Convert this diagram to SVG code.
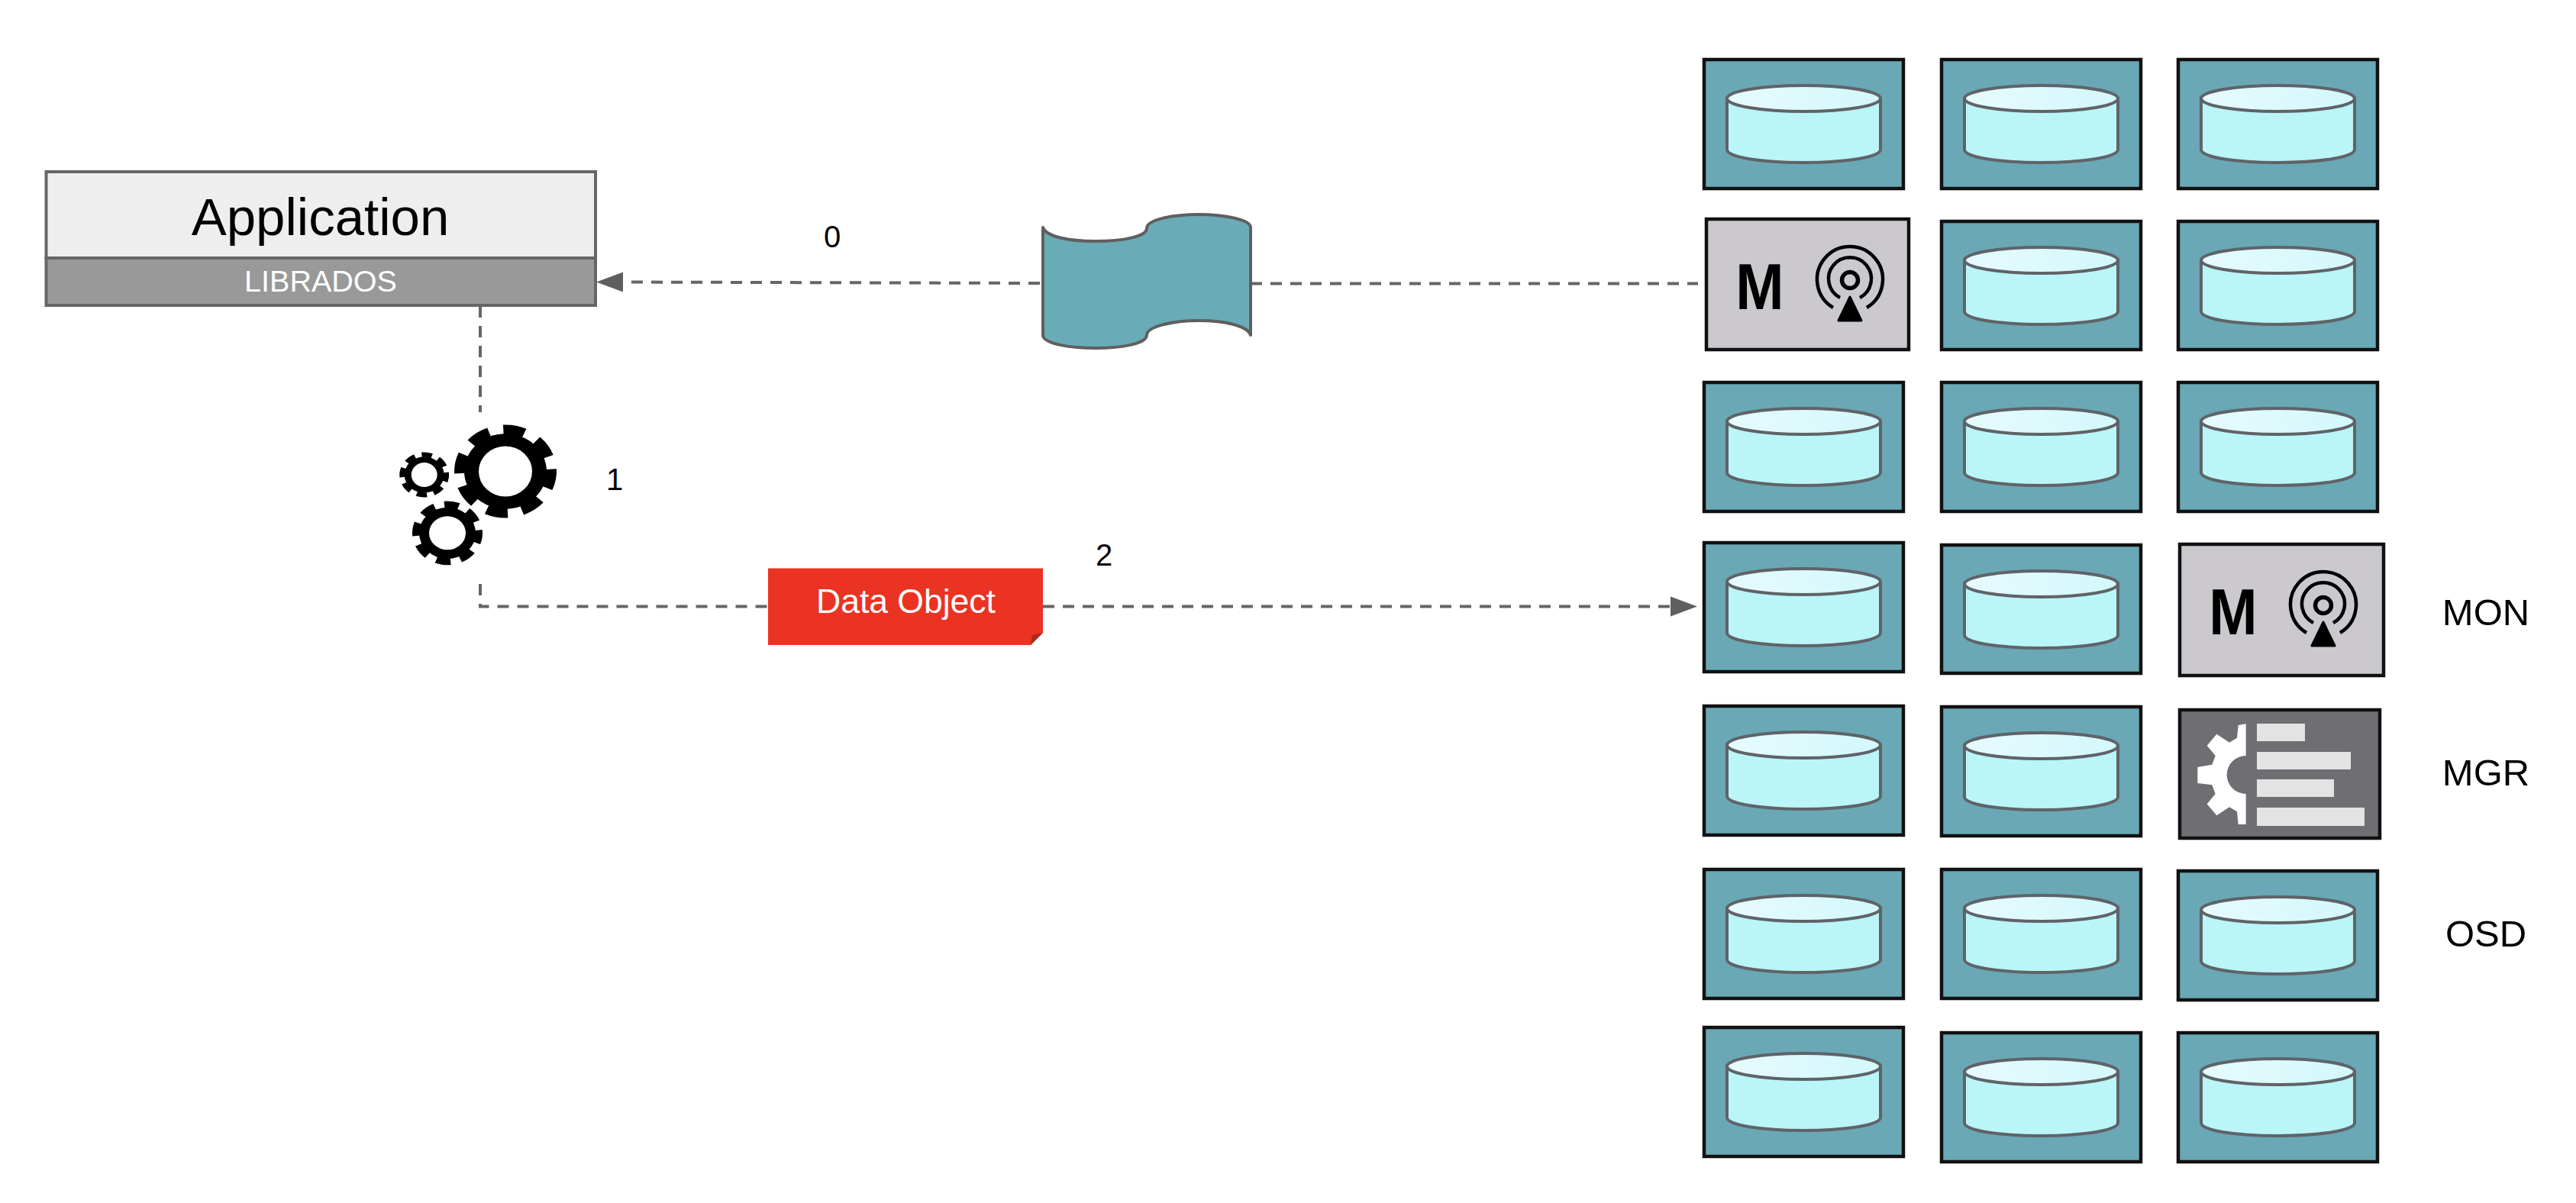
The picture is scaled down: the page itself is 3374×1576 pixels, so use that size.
<svg xmlns="http://www.w3.org/2000/svg" width="3374" height="1576" viewBox="0 0 3374 1576">
<style>
text{font-family:"Liberation Sans",Arial,sans-serif;fill:#000}
.c{text-anchor:middle}
.lbl{font-size:40px}
.side{font-size:49px;text-anchor:middle}
.conn{fill:none;stroke:#666;stroke-width:4;stroke-dasharray:15 11}
.osd{fill:#6aa8b5;stroke:#111;stroke-width:4.5}
.mon{fill:#cbc9cd;stroke:#111;stroke-width:4.5}
.ink{fill:none;stroke:#000}
.mt{font-size:76px;font-weight:700;text-anchor:middle}
.bar{fill:#e3e3e4}
</style>
<defs>
<linearGradient id="lid" x1="0" x2="1" y1="0" y2="0"><stop offset="0" stop-color="#e6fbfd"/><stop offset="1" stop-color="#d3f8fb"/></linearGradient>
<marker id="arrow" markerUnits="userSpaceOnUse" markerWidth="36" markerHeight="28" refX="0" refY="14" orient="auto"><path d="M0 1L35 14L0 27Z" fill="#5f5f5f"/></marker>
<g id="cyl">
<path d="M30 51V118C30 128 75 135 130 135S231 128 231 118V51Z" fill="#baf5f8" stroke="#5f6368" stroke-width="4"/>
<ellipse cx="130.500" cy="51" rx="100.500" ry="17" fill="url(#lid)" stroke="#5f6368" stroke-width="4"/>
</g>
<g id="ant">
<circle cx="188" cy="80" r="10.500" class="ink" stroke-width="5.500"/>
<path d="M175 103A28 28 0 1 1 201 103" class="ink" stroke-width="4.500"/>
<path d="M166 116A43 43 0 1 1 210 116" class="ink" stroke-width="4.500"/>
<path d="M188 102L203 133H173Z" fill="#000" stroke="#000" stroke-width="3" stroke-linejoin="round"/>
</g>
</defs>

<g id="connectors">
<path class="conn" d="M629 401V540"/>
<path class="conn" d="M629 765V794.500H1006"/>
<path class="conn" d="M1366 794.500H2188" marker-end="url(#arrow)"/>
<path class="conn" d="M1362 371L816 369.500" marker-end="url(#arrow)"/>
<path class="conn" d="M1638 371.500H2224"/>
</g>

<g id="application">
<rect x="60.500" y="225" width="719.500" height="113" fill="#eee" stroke="#666" stroke-width="4"/>
<text x="419.500" y="308" class="c" font-size="69">Application</text>
</g>
<g id="librados">
<rect x="60.500" y="338" width="719.500" height="62" fill="#999" stroke="#666" stroke-width="4"/>
<text x="420" y="382" class="c" font-size="39.500" style="fill:#fff">LIBRADOS</text>
</g>

<g id="gears">
<g transform="translate(662 617.500) scale(1 .91)">
<circle r="60" class="ink" stroke-width="14" stroke-dasharray="28 19.120" transform="rotate(-3)"/>
<circle r="54" fill="#000"/>
</g>
<ellipse cx="662" cy="617.500" rx="35" ry="33" fill="#fff"/>
<g transform="translate(586 698.300) scale(1 .91)">
<circle r="41" class="ink" stroke-width="10" stroke-dasharray="19 13.200" transform="rotate(-6)"/>
<circle r="37" fill="#000"/>
</g>
<ellipse cx="586" cy="698.300" rx="24" ry="22" fill="#fff"/>
<g transform="translate(555.700 622) scale(1 .91)">
<circle r="29" class="ink" stroke-width="7" stroke-dasharray="13.500 9.280" transform="rotate(-7)"/>
<circle r="26" fill="#000"/>
</g>
<ellipse cx="555.700" cy="622" rx="17" ry="16" fill="#fff"/>
</g>

<g id="scroll">
<path d="M1366 298C1370 310 1400 316 1435 316C1470 316 1502 310 1502 299C1502 288 1535 281 1570 281C1605 281 1638 288 1638 298V439C1634 427 1605 420 1570 420C1535 420 1502 428 1502 439C1502 450 1470 456 1435 456C1400 456 1366 450 1366 439Z" fill="#6aabb8" stroke="#5f5f5f" stroke-width="4" stroke-linejoin="round"/>
</g>

<g id="data-object">
<path d="M1006 744.500H1366V829L1350 845H1006Z" fill="#ea3323"/>
<path d="M1352 832L1366 829L1350 845Z" fill="#a82d1e"/>
<text x="1186.500" y="802.500" class="c" font-size="44.500" style="fill:#fff">Data Object</text>
</g>

<g id="labels">
<text x="1090" y="323.500" class="c lbl">0</text>
<text x="805" y="642" class="c lbl">1</text>
<text x="1446" y="741" class="c lbl">2</text>
<text x="3256" y="819" class="side">MON</text>
<text x="3256" y="1029" class="side">MGR</text>
<text x="3256" y="1239.500" class="side">OSD</text>
</g>

<g id="osd-1-1" transform="translate(2232 78)"><rect class="osd" width="261" height="169"/><use href="#cyl"/></g>
<g id="osd-1-2" transform="translate(2543 78)"><rect class="osd" width="261" height="169"/><use href="#cyl"/></g>
<g id="osd-1-3" transform="translate(2853 78)"><rect class="osd" width="261" height="169"/><use href="#cyl"/></g>

<g id="mon-2-1" transform="translate(2235 287)"><rect class="mon" width="265" height="171"/><text transform="translate(70 118) scale(1 1.12)" class="mt">M</text><use href="#ant"/></g>
<g id="osd-2-2" transform="translate(2543 290)"><rect class="osd" width="261" height="168"/><use href="#cyl"/></g>
<g id="osd-2-3" transform="translate(2853 290)"><rect class="osd" width="261" height="168"/><use href="#cyl"/></g>

<g id="osd-3-1" transform="translate(2232 501)"><rect class="osd" width="261" height="169"/><use href="#cyl"/></g>
<g id="osd-3-2" transform="translate(2543 501)"><rect class="osd" width="261" height="169"/><use href="#cyl"/></g>
<g id="osd-3-3" transform="translate(2853 501)"><rect class="osd" width="261" height="169"/><use href="#cyl"/></g>

<g id="osd-4-1" transform="translate(2232 711)"><rect class="osd" width="261" height="169"/><use href="#cyl"/></g>
<g id="osd-4-2" transform="translate(2543 714)"><rect class="osd" width="261" height="168"/><use href="#cyl"/></g>
<g id="mon-4-3" transform="translate(2855 713)"><rect class="mon" width="267" height="172"/><text transform="translate(70 118) scale(1 1.12)" class="mt">M</text><use href="#ant"/></g>

<g id="osd-5-1" transform="translate(2232 925)"><rect class="osd" width="261" height="169"/><use href="#cyl"/></g>
<g id="osd-5-2" transform="translate(2543 926)"><rect class="osd" width="261" height="169"/><use href="#cyl"/></g>
<g id="mgr">
<rect x="2855" y="930" width="262" height="168" fill="#6f6e72" stroke="#111" stroke-width="4.500"/>
<path transform="translate(2860 920) scale(.33333)" fill="#fff" d="M245 85L215 90L210 140L180 158L130 125L92 170L125 210L112 245L55 255V318L112 325L125 360L92 400L130 445L180 412L210 430L215 480H245V360A75 75 0 0 1 245 210Z"/>
<rect class="bar" x="2956" y="948" width="63" height="23"/>
<rect class="bar" x="2956" y="985" width="123" height="23"/>
<rect class="bar" x="2956" y="1021" width="101" height="23"/>
<rect class="bar" x="2956" y="1058" width="141" height="24"/>
</g>

<g id="osd-6-1" transform="translate(2232 1139)"><rect class="osd" width="261" height="169"/><use href="#cyl"/></g>
<g id="osd-6-2" transform="translate(2543 1139)"><rect class="osd" width="261" height="169"/><use href="#cyl"/></g>
<g id="osd-6-3" transform="translate(2853 1141)"><rect class="osd" width="261" height="169"/><use href="#cyl"/></g>

<g id="osd-7-1" transform="translate(2232 1346)"><rect class="osd" width="261" height="169"/><use href="#cyl"/></g>
<g id="osd-7-2" transform="translate(2543 1353)"><rect class="osd" width="261" height="169"/><use href="#cyl"/></g>
<g id="osd-7-3" transform="translate(2853 1353)"><rect class="osd" width="261" height="169"/><use href="#cyl"/></g>
</svg>
